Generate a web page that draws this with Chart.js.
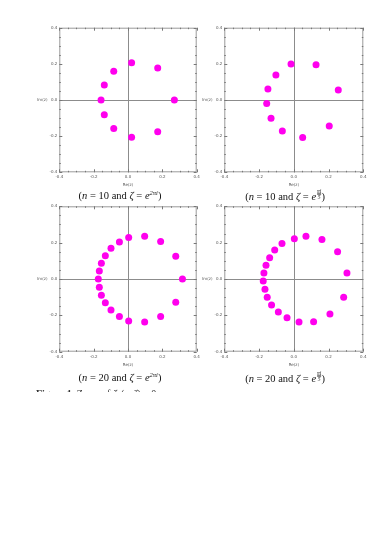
<!DOCTYPE html>
<html>
<head>
<meta charset="utf-8">
<script src="https://cdn.jsdelivr.net/npm/chart.js@4.4.1/dist/chart.umd.min.js"></script>
<style>
body { margin:0; background:#fff; width:389px; height:550px; position:relative; overflow:hidden; }
canvas { position:absolute; }
.cap { position:absolute; font-family:"Liberation Serif", "DejaVu Serif", serif; font-size:10.5px; color:#111; white-space:nowrap; transform:translate(-50%, -50%); }
.cap i { font-style:italic; }
.frac { display:inline-block; vertical-align:1px; font-size:5.5px; line-height:5px; text-align:center; font-style:italic; margin-left:1px; }
.frac span { display:block; }
.frac .num { border-bottom:0.5px solid #111; }
#fig { position:absolute; left:36px; top:388px; height:4px; overflow:hidden; font-family:"Liberation Serif", serif; font-size:10px; line-height:12px; color:#333; white-space:nowrap; }
</style>
</head>
<body>
<canvas id="c1" width="185" height="172" style="left:20px;top:20px"></canvas>
<canvas id="c2" width="190" height="172" style="left:185px;top:20px"></canvas>
<canvas id="c3" width="185" height="172" style="left:20px;top:199px"></canvas>
<canvas id="c4" width="190" height="172" style="left:185px;top:199px"></canvas>

<div class="cap" style="left:120px;top:195px">(<i>n</i> = 10 and <i>ζ</i> = <i>e</i><sup style="font-size:6.5px"><i>2πi</i></sup>)</div>
<div class="cap" style="left:285px;top:195px">(<i>n</i> = 10 and <i>ζ</i> = <i>e</i><span class="frac"><span class="num">πi</span><span>5</span></span>)</div>
<div class="cap" style="left:120px;top:377px">(<i>n</i> = 20 and <i>ζ</i> = <i>e</i><sup style="font-size:6.5px"><i>2πi</i></sup>)</div>
<div class="cap" style="left:285px;top:377px">(<i>n</i> = 20 and <i>ζ</i> = <i>e</i><span class="frac"><span class="num">πi</span><span>5</span></span>)</div>
<div id="fig"><b>Figure 1.</b> Zeros of <i>ζ</i><sub>n</sub>(<i>z</i>, <i>ζ</i>) = 0</div>

<script>
let re1 = [0.021, 0.173, 0.270, 0.173, 0.021, -0.083, -0.138, -0.157, -0.138, -0.083];
let im1 = [0.206, 0.177, 0.000, -0.175, -0.206, -0.157, -0.081, 0.000, 0.083, 0.159];

let re2 = [-0.016, 0.128, 0.256, 0.204, 0.051, -0.066, -0.131, -0.156, -0.149, -0.103];
let im2 = [0.199, 0.195, 0.055, -0.144, -0.208, -0.171, -0.101, -0.020, 0.061, 0.138];

let re3 = [0.004, 0.097, 0.190, 0.278, 0.317, 0.278, 0.190, 0.097, 0.004, -0.050,
           -0.099, -0.132, -0.155, -0.167, -0.173, -0.167, -0.155, -0.132, -0.099, -0.050];
let im3 = [0.228, 0.235, 0.206, 0.125, 0.000, -0.128, -0.207, -0.237, -0.231, -0.206,
           -0.171, -0.130, -0.090, -0.046, 0.000, 0.044, 0.086, 0.128, 0.169, 0.204];

let re4 = [0.003, 0.070, 0.162, 0.252, 0.306, 0.287, 0.208, 0.114, 0.030, -0.039,
           -0.089, -0.128, -0.153, -0.166, -0.176, -0.172, -0.160, -0.139, -0.110, -0.068];
let im4 = [0.222, 0.235, 0.218, 0.150, 0.033, -0.101, -0.193, -0.235, -0.237, -0.213,
           -0.182, -0.143, -0.101, -0.057, -0.011, 0.033, 0.075, 0.117, 0.160, 0.196];

let axisMin = -0.4;
let axisMax = 0.4;
let majorStep = 0.2;
let minorStep = 0.05;

// frame with inward ticks + zero axes, like Mathematica's Frame->True
const framePlugin = {
    id: 'frame',
    beforeDatasetsDraw(chart) {
        const c = chart.ctx;
        const a = chart.chartArea;
        const sx = chart.scales.x, sy = chart.scales.y;
        c.save();
        // axes through origin
        c.strokeStyle = '#8c8c8c';
        c.lineWidth = 1;
        c.beginPath();
        let x0 = Math.round(sx.getPixelForValue(0)) + 0.5;
        let y0 = Math.round(sy.getPixelForValue(0)) + 0.5;
        c.moveTo(x0, a.top); c.lineTo(x0, a.bottom);
        c.moveTo(a.left, y0); c.lineTo(a.right, y0);
        c.stroke();
        // frame
        c.strokeStyle = '#9a9a9a';
        c.strokeRect(a.left + 0.5, a.top + 0.5, a.right - a.left - 1, a.bottom - a.top - 1);
        // ticks
        c.strokeStyle = '#777';
        c.beginPath();
        for (let k = 0; k <= Math.round((axisMax - axisMin) / minorStep); k++) {
            let v = axisMin + k * minorStep;
            let major = Math.abs(v / majorStep - Math.round(v / majorStep)) < 1e-6;
            let len = major ? 3 : 1.5;
            let px = Math.round(sx.getPixelForValue(v)) + 0.5;
            let py = Math.round(sy.getPixelForValue(v)) + 0.5;
            c.moveTo(px, a.bottom); c.lineTo(px, a.bottom - len);
            c.moveTo(px, a.top); c.lineTo(px, a.top + len);
            c.moveTo(a.left, py); c.lineTo(a.left + len, py);
            c.moveTo(a.right, py); c.lineTo(a.right - len, py);
        }
        c.stroke();
        // axis names
        c.fillStyle = '#555';
        c.font = '4px "DejaVu Sans"';
        c.textAlign = 'center';
        c.textBaseline = 'middle';
        c.fillText('Im(z)', a.left - 17, sy.getPixelForValue(0));
        c.fillText('Re(z)', sx.getPixelForValue(0), a.bottom + 13);
        c.restore();
    }
};

function makeChart(id, re, im, yWidth, xHeight, padTop, padRight) {
    let pts = re.map((r, i) => ({ x: r, y: im[i] }));
    return new Chart(document.getElementById(id), {
        type: 'scatter',
        data: {
            datasets: [{
                data: pts,
                backgroundColor: '#ff00ee',
                borderWidth: 0,
                pointRadius: 3.5
            }]
        },
        options: {
            responsive: false,
            animation: false,
            layout: { padding: { top: padTop, right: padRight, left: 0, bottom: 0 } },
            plugins: { legend: { display: false }, tooltip: { enabled: false } },
            scales: {
                x: {
                    min: axisMin, max: axisMax,
                    grid: { display: false, drawTicks: false },
                    border: { display: false },
                    ticks: {
                        stepSize: majorStep, padding: 2.5, color: '#555',
                        font: { size: 4, family: 'DejaVu Sans' },
                        maxRotation: 0,
                        callback: v => Math.abs(v) < 1e-9 ? '0.0' : v.toFixed(1)
                    },
                    afterFit: s => { s.height = xHeight; }
                },
                y: {
                    min: axisMin, max: axisMax,
                    grid: { display: false, drawTicks: false },
                    border: { display: false },
                    ticks: {
                        stepSize: majorStep, padding: 2, color: '#555',
                        font: { size: 4, family: 'DejaVu Sans' },
                        callback: v => Math.abs(v) < 1e-9 ? '0.0' : v.toFixed(1)
                    },
                    afterFit: s => { s.width = yWidth; }
                }
            }
        },
        plugins: [framePlugin]
    });
}

makeChart('c1', re1, im1, 39.3, 19.7, 7.7, 8.3);
makeChart('c2', re2, im2, 39.3, 19.7, 7.7, 11.7);
makeChart('c3', re3, im3, 39.3, 19.3, 7.3, 8.3);
makeChart('c4', re4, im4, 39.3, 19.3, 7.3, 11.7);
</script>
</body>
</html>
